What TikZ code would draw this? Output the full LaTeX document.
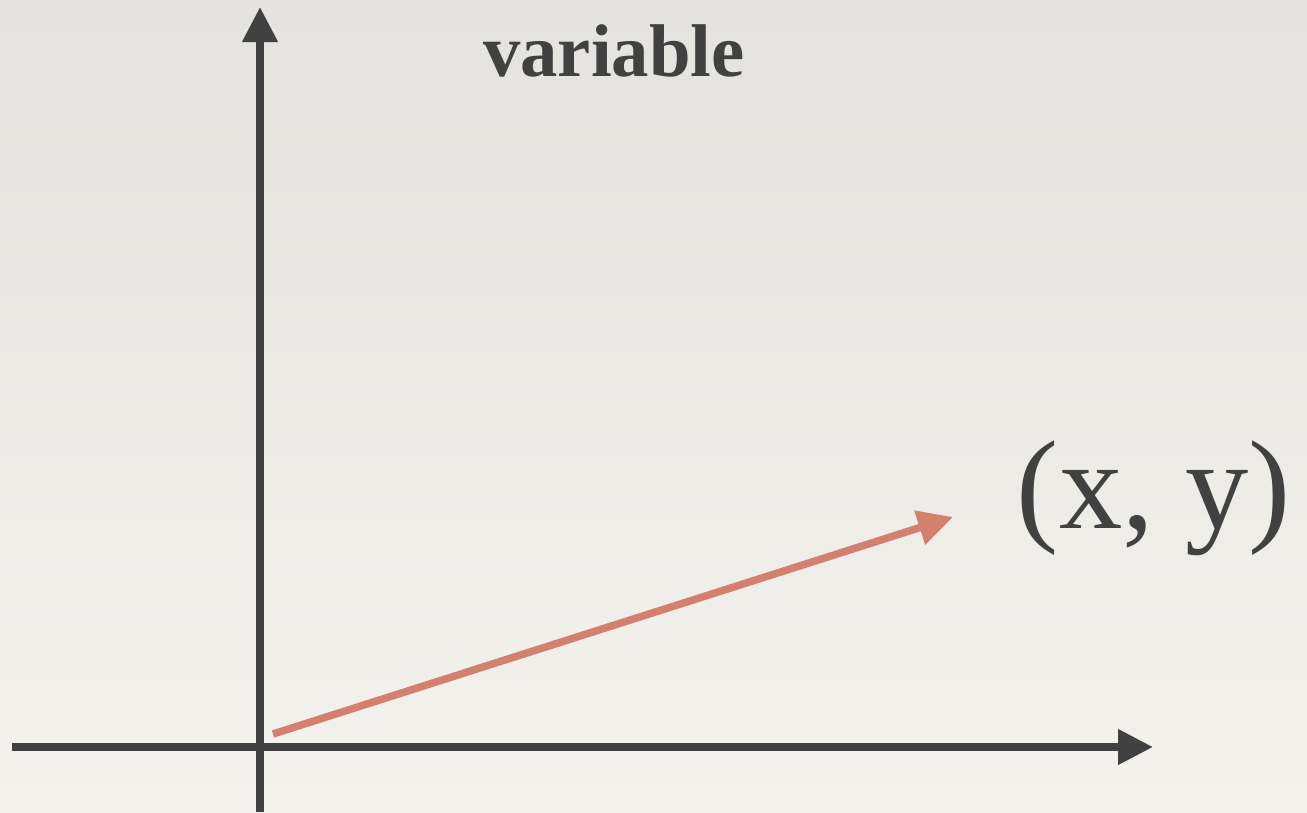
\documentclass[tikz,border=0pt]{standalone}
\usepackage{fontspec}
\setmainfont{Liberation Serif}
\usetikzlibrary{arrows.meta}
\definecolor{axisgray}{HTML}{414141}
\definecolor{vecred}{HTML}{D4806F}
\definecolor{bgtop}{HTML}{E5E3DF}
\definecolor{bgbot}{HTML}{F4F2ED}
\tikzset{
  axis/.style={draw=axisgray, line width=7.5bp, -{Triangle[length=35bp,width=34bp]}},
  vec/.style={draw=vecred, line width=7.5bp, -{Triangle[length=35bp,width=34bp]}},
  lbl/.style={text=axisgray, inner sep=0pt, anchor=base}
}
\begin{document}
\begin{tikzpicture}[x=1bp,y=-1bp]
\shade[top color=bgtop, bottom color=bgbot] (0,0) rectangle (1307,812);
\useasboundingbox (0,0) rectangle (1307,812);
\coordinate (ybot) at (260,812);
\coordinate (ytop) at (260,7);
\coordinate (xleft) at (12,747);
\coordinate (xright) at (1153,747);
\coordinate (vstart) at (273,734);
\coordinate (vend) at (953,517);
\draw[axis] (ybot) -- (ytop);
\draw[axis] (xleft) -- (xright);
\draw[vec] (vstart) -- (vend);
\node[lbl, font=\fontsize{75}{80}\selectfont\bfseries] (var) at (614,76) {variable};
\node[lbl, font=\fontsize{127}{135}\selectfont] (pt) at (1154,528) {(x, y)};
\end{tikzpicture}
\end{document}
